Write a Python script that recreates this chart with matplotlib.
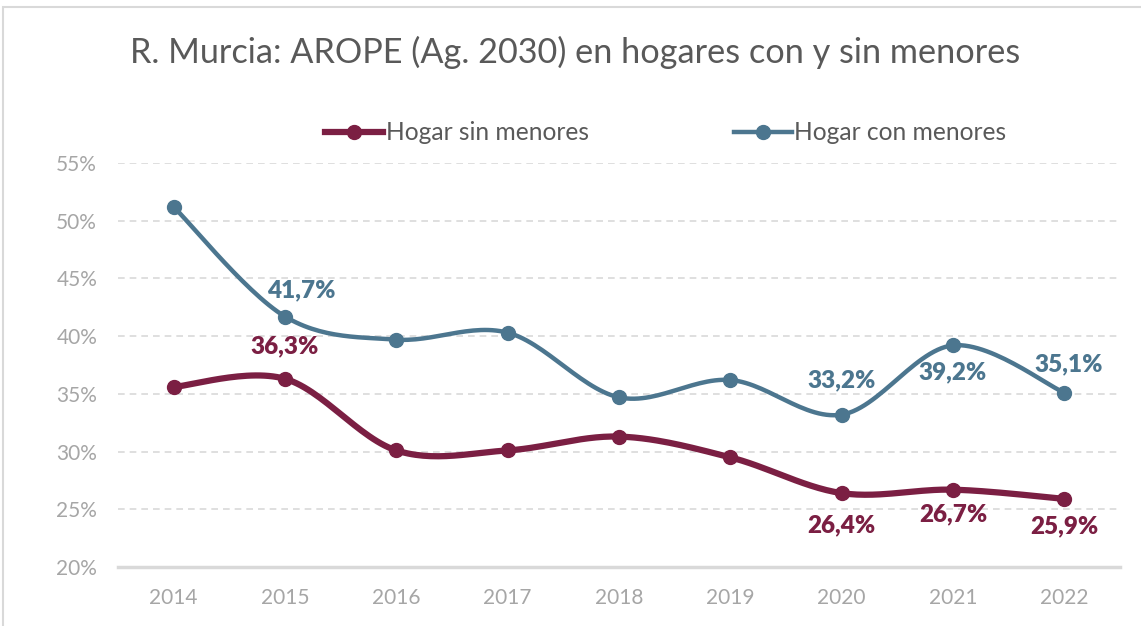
import numpy as np
import matplotlib
matplotlib.use("Agg")
import matplotlib.pyplot as plt
from matplotlib.lines import Line2D
from matplotlib.patches import Rectangle

years = ['2014', '2015', '2016', '2017', '2018', '2019', '2020', '2021', '2022']
sin_menores = [35.6, 36.3, 30.1, 30.1, 31.3, 29.5, 26.4, 26.7, 25.9]
con_menores = [51.2, 41.7, 39.7, 40.3, 34.7, 36.2, 33.2, 39.2, 35.1]
yticks = [20, 25, 30, 35, 40, 45, 50, 55]

# etiquetas: indice, desplazamiento en pixeles (dx, dy), dy positivo = arriba
labels_sin = {1: (0, 33), 6: (0, -32), 7: (0, -25), 8: (0, -27)}
labels_con = {1: (16, 26), 6: (0, 34), 7: (0, -27), 8: (4, 28)}

c_sin = '#7B1F43'
c_con = '#4C768F'
FONT = 'Lato'


def smooth(x, y, n=30):
    # spline tipo Catmull-Rom como el suavizado de Excel
    x = np.asarray(x, float)
    y = np.asarray(y, float)
    px = np.concatenate([[x[0]], x, [x[-1]]])
    py = np.concatenate([[y[0]], y, [y[-1]]])
    xs, ys = [], []
    t = np.linspace(0, 1, n)
    for i in range(1, len(px) - 2):
        p0, p1, p2, p3 = (np.array([px[j], py[j]]) for j in range(i - 1, i + 3))
        c1 = p1 + (p2 - p0) / 6
        c2 = p2 - (p3 - p1) / 6
        pts = ((1 - t) ** 3)[:, None] * p1 + (3 * (1 - t) ** 2 * t)[:, None] * c1 \
            + (3 * (1 - t) * t ** 2)[:, None] * c2 + (t ** 3)[:, None] * p2
        xs.extend(pts[:, 0])
        ys.extend(pts[:, 1])
    return xs, ys


def fmt(v):
    return f'{v:.1f}%'.replace('.', ',')


fig = plt.figure(figsize=(11.41, 6.26), dpi=100)
fig.patches.append(Rectangle((3 / 1141, -0.1), 1.2, 1 - 7 / 626 + 0.1, transform=fig.transFigure,
                             fill=False, edgecolor='#D9D9D9', linewidth=1.5))
ax = fig.add_axes([118 / 1141, 1 - 567 / 626, 1002 / 1141, 404 / 626])

x = np.arange(len(years))
for data, col, lw, labs in [(sin_menores, c_sin, 4.5, labels_sin), (con_menores, c_con, 3.2, labels_con)]:
    sx, sy = smooth(x, data)
    ax.plot(sx, sy, color=col, linewidth=lw, solid_capstyle='round', zorder=3)
    ax.plot(x, data, 'o', color=col, markersize=10, zorder=4)
    for i, (dx, dy) in labs.items():
        ax.annotate(fmt(data[i]), (x[i], data[i]), xytext=(dx, dy), textcoords='offset pixels',
                    ha='center', va='center', color=col, fontsize=17.5, fontweight='heavy', family=FONT)

ax.set_xlim(-0.5, len(years) - 0.5)
ax.set_ylim(20, 55)
ax.set_yticks(yticks)
ax.set_yticklabels([f'{v}%' for v in yticks])
ax.set_xticks(x)
ax.set_xticklabels(years)
ax.tick_params(length=0, labelsize=15, colors='#A6A6A6')
for lab in ax.get_xticklabels() + ax.get_yticklabels():
    lab.set_family(FONT)
ax.xaxis.set_tick_params(pad=15)
ax.yaxis.set_tick_params(pad=15)
ax.grid(axis='y', color='#D9D9D9', linestyle=(0, (4, 3)), linewidth=1.2)
ax.set_axisbelow(True)
for s in ['left', 'right', 'top']:
    ax.spines[s].set_visible(False)
ax.spines['bottom'].set_color('#D9D9D9')
ax.spines['bottom'].set_linewidth(2.5)

fig.text(575 / 1141, 1 - 52 / 626, 'R. Murcia: AROPE (Ag. 2030) en hogares con y sin menores',
         ha='center', va='center', fontsize=24.7, color='#595959', family=FONT)

handles = [Line2D([], [], color=c_sin, linewidth=4.5, marker='o', markersize=10),
           Line2D([], [], color=c_con, linewidth=3.2, marker='o', markersize=10)]
leg = fig.legend(handles, ['Hogar sin menores', 'Hogar con menores'], loc='center',
                 bbox_to_anchor=(666 / 1141, 1 - 133 / 626), ncol=2, frameon=False,
                 handlelength=2.36, handletextpad=0.1, columnspacing=5.9,
                 prop={'family': FONT, 'size': 17.7})
for t in leg.get_texts():
    t.set_color('#595959')

fig.savefig('out.png', dpi=100)
